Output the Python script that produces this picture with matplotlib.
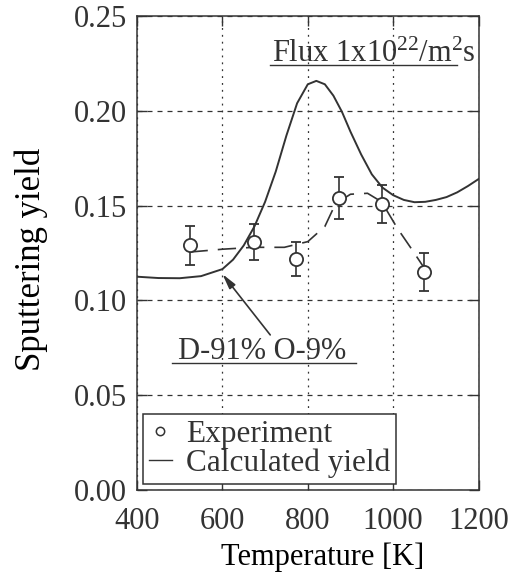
import numpy as np
import matplotlib
matplotlib.use("Agg")
import matplotlib.pyplot as plt
from matplotlib.lines import Line2D

# experiment (sputtering yield vs temperature)
exp_temp = [523, 673, 773, 873, 973, 1073]
exp_yield = [0.129, 0.131, 0.122, 0.154, 0.151, 0.115]
exp_err = [0.0105, 0.0095, 0.009, 0.011, 0.010, 0.010]

# dashed guide line through the experiment
guide_temp = [523, 600, 673, 745, 800, 840, 865, 900, 940, 973, 1010, 1045, 1073, 1097]
guide_yield = [0.1255, 0.127, 0.128, 0.128, 0.131, 0.139, 0.151, 0.156, 0.1565,
               0.152, 0.138, 0.1265, 0.117, 0.1117]

# calculated yield
calc_temp = [400, 450, 500, 550, 600, 625, 650, 675, 700, 725, 750, 775, 800, 820,
             840, 860, 880, 900, 925, 950, 975, 1000, 1025, 1050, 1075, 1100, 1125,
             1150, 1175, 1200]
calc_yield = [0.1125, 0.1118, 0.1117, 0.1128, 0.1165, 0.1215, 0.1290, 0.1390, 0.1520,
              0.1680, 0.1870, 0.2040, 0.2140, 0.2158, 0.2140, 0.2080, 0.1995, 0.1890,
              0.1770, 0.1665, 0.1595, 0.1555, 0.1530, 0.1518, 0.1520, 0.1530, 0.1545,
              0.1570, 0.1603, 0.1640]

ink = "#333333"
plt.rcParams["font.family"] = ["Liberation Serif", "DejaVu Serif"]
plt.rcParams["mathtext.fontset"] = "custom"
plt.rcParams["mathtext.rm"] = "Liberation Serif"
plt.rcParams["mathtext.it"] = "Liberation Serif:italic"
plt.rcParams["text.color"] = ink
plt.rcParams["axes.edgecolor"] = ink
plt.rcParams["xtick.color"] = ink
plt.rcParams["ytick.color"] = ink

fig = plt.figure(figsize=(5.21, 5.73), dpi=100)
ax = fig.add_axes([0.263, 0.1449, 0.6555, 0.8271])

ax.plot(calc_temp, calc_yield, color=ink, lw=1.4, zorder=3)
ax.plot(guide_temp, guide_yield, color=ink, lw=1.2, ls=(0, (11, 6)), zorder=3)
ax.errorbar(exp_temp, exp_yield, yerr=exp_err, fmt="o", ms=9.5, mfc="white",
            mec=ink, mew=1.3, ecolor=ink, elinewidth=1.2, capsize=3.5,
            capthick=1.2, zorder=4)

ax.set_xlim(400, 1200)
ax.set_ylim(0, 0.25)
ax.set_xticks([400, 600, 800, 1000, 1200])
ax.set_yticks([0, 0.05, 0.10, 0.15, 0.20, 0.25])
ax.set_yticklabels(["0.00", "0.05", "0.10", "0.15", "0.20", "0.25"])
ax.tick_params(direction="in", top=True, right=True, length=7, width=1,
               labelsize=22)
ax.tick_params(axis="x", pad=12)
ax.tick_params(axis="y", pad=7)
for s in ax.spines.values():
    s.set_linewidth(1.1)

ax.xaxis.grid(True, ls=(0, (1.5, 4)), lw=0.9, color=ink)
ax.yaxis.grid(True, ls=(0, (4, 4)), lw=0.9, color=ink)
ax.set_axisbelow(True)

ax.set_xlabel("Temperature [K]", fontsize=22)
ax.set_ylabel("Sputtering yield", fontsize=25)
ax.xaxis.set_label_coords(0.543, -0.11)
ax.yaxis.set_label_coords(-0.26, 0.486)

# annotations
ax.text(0.991, 0.903, "Flux 1x10$^{22}$/m$^{2}$s", transform=ax.transAxes,
        ha="right", va="baseline", fontsize=22)
ax.plot([0.39, 0.938], [0.8966, 0.8966], transform=ax.transAxes, color=ink, lw=1)
ax.text(0.3666, 0.2764, "D-91% O-9%", transform=ax.transAxes, ha="center",
        va="baseline", fontsize=22)
ax.plot([0.1026, 0.642], [0.2686, 0.2686], transform=ax.transAxes, color=ink, lw=1)
ax.annotate("", xy=(600, 0.1139), xytext=(712, 0.0818),
            arrowprops=dict(arrowstyle="-|>,head_length=0.9,head_width=0.22",
                            color=ink, lw=1.2, shrinkA=0, shrinkB=0))

handles = [Line2D([], [], ls="none", marker="o", ms=6, mfc="white", mec=ink, mew=1.1),
           Line2D([], [], color=ink, lw=1)]
leg = ax.legend(handles, ["Experiment", "Calculated yield"], loc="lower left",
                bbox_to_anchor=(0.0176, 0.0127), borderaxespad=0, fontsize=22.5,
                handlelength=0.75, handletextpad=0.45, labelspacing=0.0,
                borderpad=0.18, fancybox=False, framealpha=1, edgecolor=ink)
leg.get_frame().set_linewidth(1.1)

fig.savefig("out.png", dpi=100)
